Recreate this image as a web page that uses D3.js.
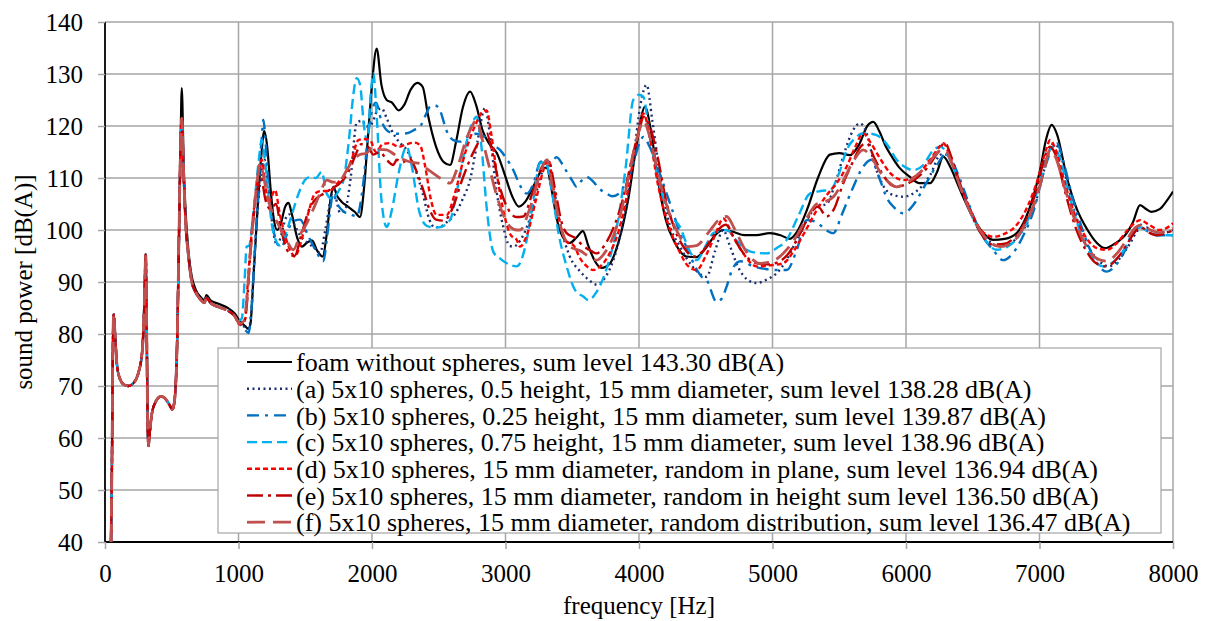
<!DOCTYPE html>
<html>
<head>
<meta charset="utf-8">
<script src="https://cdn.jsdelivr.net/npm/d3@7"></script>
<style>
  body { margin: 0; background: #fff; }
  svg text { font-family: "Liberation Serif", "Times New Roman", serif; fill: #000; }
</style>
</head>
<body>
<div id="chart"></div>
<script>
// Low frequency part, practically identical for all variants [Hz, dB(A)]
const lowBand = [[45,40],[52,55],[58,75],[65,83.8],[75,80],[90,74],[110,71.5],[140,70.3],[175,70],[210,70.5],
  [250,72.5],[280,77],[295,86],[305,95.3],[312,82],[320,62],[326,58.5],[335,61],[350,64.5],[380,67],[420,68],
  [450,67.6],[480,66.5],[505,65.5],[520,67],[540,78],[555,100],[565,115]];

// decay after the 575 Hz peak for the variants with spheres
const decayBand = [[575,121.5],[590,110],[605,101],[625,95],[650,90],[680,88],[720,86.5],[745,86],[760,87],
  [790,86],[850,85.2],[920,84.5],[970,83.5]];

const foamHigh = [[575,127.3],[590,112],[605,103],[625,96],[650,91],[680,88.5],[720,87],[745,86.5],[760,87.5],
  [790,86.5],[850,85.8],[920,85],[970,84],[1010,82.5],[1050,81.5],[1075,81],[1090,82],[1110,90],[1140,103],
  [1170,114],[1193,119],[1215,116],[1240,108],[1265,102],[1290,100],[1320,101.5],[1350,104.5],[1375,105.2],
  [1400,103],[1440,98.5],[1475,96.8],[1510,97.5],[1550,98],[1590,96],[1630,94.9],[1660,99],[1690,106],
  [1710,108.3],[1740,106.5],[1770,105.5],[1820,104.5],[1870,103.5],[1910,102.5],[1940,108],[1970,118],
  [2000,128],[2035,134.9],[2070,128],[2110,125],[2150,124.5],[2200,123],[2240,124],[2290,127],[2340,128.3],
  [2380,127.5],[2420,122],[2480,116],[2540,113],[2585,112.5],[2630,117],[2680,123.5],[2735,126.6],[2780,124],
  [2830,119],[2880,116.5],[2935,114.8],[2990,111],[3050,106.5],[3100,104.5],[3150,105.5],[3220,109],
  [3280,111.8],[3310,112],[3340,108.5],[3390,101.5],[3440,98.2],[3480,97.5],[3530,98.5],[3580,99.8],
  [3620,97],[3670,94],[3720,92.7],[3780,93.5],[3850,98],[3920,106],[3980,116],[4045,123.7],[4090,119],
  [4140,110],[4200,102],[4270,97.5],[4357,94.9],[4430,94.8],[4500,96.5],[4570,99],[4631,100],[4700,99.7],
  [4790,99],[4880,99],[4980,99.4],[5060,99],[5131,98.3],[5180,99.5],[5260,104],[5340,110],[5430,114.5],
  [5500,114.8],[5581,114.4],[5650,116.5],[5710,120],[5755,120.8],[5800,119],[5850,116],[5880,114.7],
  [5950,112],[6030,110.2],[6100,109],[6180,109],[6230,111],[6280,114.1],[6330,112.2],[6400,108],
  [6480,103.5],[6560,100],[6652,98.1],[6740,98.3],[6829,99.4],[6900,102.5],[6960,107],[7004,111.5],
  [7050,117.5],[7091,120.2],[7130,118.5],[7204,110.2],[7280,104],[7360,100],[7430,97.5],[7491,96.5],
  [7560,97.3],[7653,99.4],[7700,101.5],[7753,104.8],[7800,104],[7840,103.5],[7900,104],[7950,105.5],[8000,107.4]];

const aHigh = [[1010,82],[1050,81.3],[1075,81],[1095,84],[1120,95],[1150,106],[1175,112],[1195,113.5],
  [1215,110],[1240,104],[1265,99],[1290,97],[1320,99],[1350,102],[1380,103],[1420,101],[1460,99],[1520,97.5],
  [1570,96.5],[1610,95.6],[1650,100],[1690,106],[1710,108.3],[1740,105],[1760,103.3],[1800,104],[1840,110],
  [1885,120.6],[1925,121],[1960,119.9],[2000,120.5],[2040,123],[2072,123.4],[2110,121.5],[2147,119.2],
  [2200,117],[2260,115.4],[2320,112],[2380,107],[2430,102],[2470,100.5],[2509,100.6],[2560,101.5],
  [2620,103],[2680,106],[2734,109.6],[2790,117],[2846,123.4],[2880,119],[2930,108],[2980,101],[3030,97],
  [3059,96.8],[3110,98],[3180,102],[3250,109],[3308,113],[3360,108],[3420,100],[3480,95],[3560,92],
  [3620,90.5],[3683,89.5],[3750,91],[3830,96],[3900,104],[3960,114],[4010,124],[4057,127.9],[4100,121],
  [4160,110],[4230,101],[4307,96.8],[4400,93],[4506,91],[4570,96],[4631,100],[4680,97],[4740,93],
  [4810,90.5],[4881,89.8],[4960,90.5],[5031,91.7],[5100,94],[5180,98],[5260,102],[5330,104.5],[5406,105],
  [5470,109],[5540,115],[5600,119],[5655,120.5],[5700,119],[5760,113],[5820,109],[5880,107],[5980,106.4],
  [6080,107.5],[6180,110.5],[6260,114.5],[6310,114.5],[6370,111],[6450,106],[6530,101],[6600,98.5],
  [6680,97],[6750,97],[6830,98.5],[6920,102],[6990,107],[7050,113],[7100,116.5],[7140,116],[7200,110],
  [7270,103],[7350,97.5],[7430,94.5],[7520,93],[7600,94.5],[7680,97.5],[7740,100],[7800,100.5],
  [7870,99.5],[7940,99.5],[8000,100]];

const bHigh = [[1010,82],[1050,80.8],[1075,80.2],[1095,84],[1120,95],[1150,108],[1175,118],[1186,121.2],
  [1200,118],[1220,110],[1245,103],[1270,99],[1300,97],[1323,96.8],[1360,99],[1400,101.5],[1461,102],
  [1520,99],[1580,96],[1635,94],[1665,99],[1690,104.5],[1708,107],[1740,105],[1790,103.5],[1840,103],
  [1885,102.6],[1930,108],[1970,118],[2000,123],[2030,124.5],[2070,121],[2120,119],[2180,118.5],
  [2260,118.6],[2320,119.3],[2360,119.9],[2400,122],[2434,123.7],[2470,124],[2509,123],[2560,119],
  [2609,117.3],[2660,117],[2720,118],[2780,118.5],[2840,118],[2900,116.5],[2959,115.4],[3000,114],
  [3059,111.5],[3110,108.5],[3160,107],[3210,109],[3258,113],[3300,113.5],[3340,113],[3383,114],
  [3440,112],[3500,109.5],[3533,108.3],[3570,109.5],[3608,110.2],[3650,109.5],[3700,108],[3758,107],
  [3800,106.5],[3850,107],[3908,109.6],[3960,113],[4000,116.5],[4033,117.9],[4080,116],[4140,112],
  [4207,107],[4260,103],[4307,99.4],[4360,96.5],[4420,93],[4470,91],[4506,90.4],[4581,86.2],[4620,86.8],
  [4656,89.1],[4700,92.5],[4760,94],[4856,93],[4950,92.5],[5020,92.3],[5106,92.3],[5180,96],[5256,101.9],
  [5330,101.5],[5400,100],[5456,99.4],[5520,103],[5600,108],[5680,112.2],[5740,113.5],[5800,110],
  [5860,106],[5905,104.5],[5980,103.2],[6060,105],[6140,108.5],[6220,112],[6305,114.7],[6360,112.5],
  [6430,108],[6500,103],[6580,98.5],[6652,96.2],[6727,94.2],[6800,95.5],[6880,99],[6960,104],[7030,111],
  [7090,115.5],[7129,116.7],[7180,113],[7250,106],[7330,99.5],[7410,94.5],[7503,92],[7580,93.5],
  [7650,96.5],[7710,99.5],[7760,101],[7820,99.5],[7880,99],[7940,99],[8000,99]];

const cHigh = [[1000,82.5],[1025,83],[1045,90],[1061,96.8],[1080,97],[1110,103],[1150,113],[1174,117.3],
  [1195,114],[1220,108],[1250,101],[1280,98],[1310,97],[1350,99],[1400,103],[1450,107],[1498,109.6],
  [1536,110.2],[1580,110],[1623,111.2],[1661,107],[1700,106],[1748,107.4],[1790,110],[1830,118],[1860,126],
  [1885,129.2],[1910,128],[1940,120],[1965,117],[1990,126],[2010,130.1],[2035,122],[2070,106],[2110,100.6],
  [2150,104],[2200,111],[2260,116],[2300,112],[2350,104],[2400,101],[2434,100.6],[2500,100.5],[2584,101.9],
  [2640,108],[2700,116],[2750,120.5],[2784,121.8],[2820,116],[2860,104],[2909,95.8],[2960,94.5],
  [3009,93.6],[3084,93],[3150,97],[3210,106],[3258,112.8],[3300,113],[3350,107],[3400,99],[3458,93],
  [3520,88.5],[3583,87.2],[3620,86.5],[3680,88],[3750,92],[3830,100],[3900,112],[3957,125],[4000,126],
  [4033,125.6],[4080,118],[4150,109],[4230,103],[4307,100.6],[4370,96.5],[4432,94.2],[4500,97],
  [4556,99.4],[4656,100],[4730,98],[4806,96.2],[4880,95.6],[4956,95.5],[5030,96.5],[5106,98.1],
  [5190,102.5],[5281,107],[5360,107.5],[5431,107.7],[5500,111],[5556,115.4],[5620,117.7],[5680,118.6],
  [5740,118.5],[5805,117.9],[5870,116],[5930,113.5],[6000,112],[6055,111.5],[6130,112.5],[6205,115.4],
  [6260,116],[6320,114],[6400,109],[6480,103.5],[6570,99],[6677,96.2],[6760,96.8],[6850,99],[6930,103],
  [7000,109],[7060,114.5],[7103,116],[7150,114],[7220,107],[7300,100],[7390,95],[7475,93],[7560,94],
  [7640,96.5],[7700,99.5],[7760,100.5],[7820,99.5],[7900,99],[7960,99],[8000,99]];

const dHigh = [[1010,81.8],[1035,82.2],[1049,82.7],[1070,90],[1100,100],[1140,109],[1174,113.5],[1200,109],
  [1223,105.1],[1250,106.5],[1273,107.7],[1310,103],[1360,98],[1400,95.5],[1423,94.9],[1460,97],[1520,103],
  [1573,107],[1620,107.5],[1680,107.5],[1740,109],[1790,110.5],[1847,113.5],[1898,117.3],[1940,117.5],
  [1985,117.3],[2030,115],[2080,116.5],[2135,116.7],[2200,116],[2260,116.5],[2320,116.8],[2360,116.3],
  [2400,112],[2440,106],[2484,102.9],[2559,102.9],[2620,107],[2700,115],[2780,120.5],[2830,122.8],
  [2859,123],[2890,119],[2940,110],[2990,103],[3040,99],[3084,98.1],[3109,96.8],[3160,99],[3230,106],
  [3290,112],[3321,113.5],[3360,108],[3420,100],[3470,97.5],[3508,97.1],[3560,94.5],[3610,93],[3658,92.3],
  [3710,93],[3780,95.5],[3850,100],[3920,108],[3980,117],[4033,122.4],[4080,118],[4140,109],[4220,101],
  [4300,96],[4370,93],[4432,92.3],[4500,95],[4570,99],[4631,102.2],[4700,99],[4781,95.5],[4881,93],
  [4980,93.2],[5081,93.6],[5160,96],[5250,100],[5331,103.8],[5400,106.5],[5480,109],[5556,112.2],
  [5620,116],[5680,118.6],[5730,117],[5800,114],[5880,111],[5980,109.6],[6080,110.5],[6180,113.5],
  [6250,116],[6280,116.7],[6330,114],[6400,109],[6480,104],[6560,100],[6652,98.7],[6740,99.3],[6830,101],
  [6910,104.5],[6990,110],[7050,115.5],[7079,117.3],[7120,115.5],[7190,109],[7270,102.5],[7350,98.5],
  [7430,96.5],[7503,96.2],[7580,97.5],[7660,100],[7720,101.5],[7753,101.9],[7820,101],[7900,100],
  [7960,100.5],[8000,101.3]];

const eHigh = [[1010,82],[1040,82.3],[1060,85],[1090,96],[1130,106],[1170,110],[1200,106],[1240,104],
  [1280,105],[1320,100],[1380,95.5],[1420,95],[1470,99],[1530,104],[1580,106],[1640,107],[1700,108],
  [1760,109],[1820,111],[1870,114],[1920,116.5],[1970,116],[2010,114.5],[2060,115],[2110,113.5],
  [2160,112.5],[2185,113.5],[2230,113],[2280,113.8],[2330,111.5],[2380,108],[2430,104],[2480,102],
  [2540,101.8],[2600,104],[2680,110],[2760,115],[2830,118],[2859,118.6],[2900,115],[2960,108],[3020,104],
  [3080,102.5],[3133,102.6],[3200,107],[3270,112],[3321,113.5],[3370,108],[3420,101.5],[3458,99.4],
  [3520,98.5],[3580,97],[3640,96],[3683,95.5],[3740,97],[3810,100.5],[3880,106],[3950,114],[4010,120],
  [4033,121.8],[4080,120],[4140,114],[4200,106],[4270,100],[4340,96.5],[4407,94.9],[4480,96],[4560,99],
  [4650,101],[4720,98],[4800,95],[4881,93.6],[4960,93.4],[5040,93.8],[5120,95.5],[5200,99],[5280,103],
  [5340,104.5],[5406,102.6],[5460,104],[5530,109],[5600,113],[5660,116],[5705,116.7],[5760,114],
  [5830,110.5],[5900,108.5],[5930,108.3],[6000,108.8],[6080,110],[6160,112],[6240,115],[6290,116.8],
  [6340,114],[6410,108.5],[6490,103],[6570,99],[6650,97.2],[6730,97.3],[6810,98.5],[6900,102],[6980,108],
  [7040,114],[7079,116],[7120,114.5],[7190,107.5],[7270,100.5],[7350,96],[7430,93.5],[7503,93],
  [7580,94.5],[7650,97],[7710,99.5],[7760,100.5],[7820,99.5],[7880,99],[7940,99.3],[8000,100]];

const fHigh = [[1010,82],[1040,82.5],[1060,86],[1090,96],[1130,107],[1161,112.8],[1190,110],[1220,106],
  [1260,103],[1300,101],[1360,98],[1411,96.2],[1460,99],[1511,101.3],[1560,104],[1610,107],[1661,109.6],
  [1710,109.2],[1760,109.4],[1810,111.5],[1860,113.5],[1910,114.5],[1960,114.8],[2010,116],[2060,115.5],
  [2110,115.4],[2170,114.5],[2240,113.5],[2300,113],[2360,112.8],[2410,111.8],[2459,110.9],[2520,109.8],
  [2584,109],[2640,112],[2700,117],[2750,120],[2784,121.2],[2820,118],[2870,113],[2930,107],[2990,102.5],
  [3040,100.5],[3084,100],[3109,100],[3180,104],[3250,110],[3308,113.5],[3360,107],[3420,100],[3483,96.8],
  [3560,96],[3620,95],[3683,94.2],[3740,95.5],[3810,99],[3880,105],[3950,114],[4000,119],[4033,121],
  [4080,118],[4150,110],[4230,103],[4300,99],[4357,96.8],[4430,97],[4520,99.5],[4600,102],[4656,102.6],
  [4720,100],[4800,96],[4906,93.6],[5000,94],[5080,95.5],[5160,98],[5250,102],[5331,105],[5400,105.5],
  [5460,106.5],[5530,109.5],[5600,113],[5680,115.4],[5740,114],[5810,111],[5880,109],[5930,108.3],
  [6000,109],[6080,110.5],[6160,112.5],[6240,115],[6290,115.5],[6340,113],[6410,108],[6490,103],
  [6580,99],[6705,96.8],[6790,97.5],[6880,100.5],[6960,105],[7030,111],[7079,115.4],[7120,114],
  [7190,108],[7270,101.5],[7350,97],[7430,94.5],[7503,94],[7580,95.5],[7650,98],[7720,100.5],
  [7770,101],[7830,100],[7900,99.5],[7960,99.8],[8000,100.3]];

const seriesNames = [
  "foam without spheres, sum level 143.30 dB(A)",
  "(a) 5x10 spheres, 0.5 height, 15 mm diameter, sum level 138.28 dB(A)",
  "(b) 5x10 spheres, 0.25 height, 15 mm diameter, sum level 139.87 dB(A)",
  "(c) 5x10 spheres, 0.75 height, 15 mm diameter, sum level 138.96 dB(A)",
  "(d) 5x10 spheres, 15 mm diameter, random in plane, sum level 136.94 dB(A)",
  "(e) 5x10 spheres, 15 mm diameter, random in height sum level 136.50 dB(A)",
  "(f) 5x10 spheres, 15 mm diameter, random distribution, sum level 136.47 dB(A)"
];
const seriesColors = ["#000000", "#1c2f6e", "#0070c0", "#00b0f0", "#ff0000", "#c00000", "#c0504d"];
const seriesDash = ["", "2,3.5", "12,6,3,6", "10,5", "5,3", "16,5,3,5", "18,8"];
const seriesWidth = [2.2, 2.4, 2.4, 2.4, 2.4, 2.4, 2.8];

const xTicks = [0, 1000, 2000, 3000, 4000, 5000, 6000, 7000, 8000];
const yTicks = [40, 50, 60, 70, 80, 90, 100, 110, 120, 130, 140];

const seriesData = [
  lowBand.concat(foamHigh),
  lowBand.concat(decayBand, aHigh),
  lowBand.concat(decayBand, bHigh),
  lowBand.concat(decayBand, cHigh),
  lowBand.concat(decayBand, dHigh),
  lowBand.concat(decayBand, eHigh),
  lowBand.concat(decayBand, fHigh)
];

const W = 1209, H = 621;
const margin = {top: 22, right: 36, bottom: 79, left: 105};
const width = W - margin.left - margin.right,
      height = H - margin.top - margin.bottom;
const serif = '"Liberation Serif", "Times New Roman", serif';

const svg = d3.select("#chart").append("svg")
    .attr("width", W)
    .attr("height", H)
    .attr("font-family", serif)
    .style("background", "#fff");

const g = svg.append("g")
    .attr("transform", `translate(${margin.left},${margin.top})`);

const x = d3.scaleLinear().domain([0, 8000]).range([0, width]);
const y = d3.scaleLinear().domain([40, 140]).range([height, 0]);

// grid
g.append("g").selectAll("line").data(yTicks.slice(1)).enter().append("line")
    .attr("x1", 0).attr("x2", width)
    .attr("y1", d => y(d)).attr("y2", d => y(d))
    .attr("stroke", "#a6a6a6").attr("stroke-width", 1.5);
g.append("g").selectAll("line").data(xTicks.slice(1)).enter().append("line")
    .attr("x1", d => x(d)).attr("x2", d => x(d))
    .attr("y1", 0).attr("y2", height)
    .attr("stroke", "#a6a6a6").attr("stroke-width", 1.5);

// axes
const yAxis = g.append("g")
    .call(d3.axisLeft(y).tickValues(yTicks).tickSize(7).tickPadding(15));
const xAxis = g.append("g")
    .attr("transform", `translate(0,${height})`)
    .call(d3.axisBottom(x).tickValues(xTicks).tickSize(7).tickPadding(15).tickFormat(d3.format("d")));
[xAxis, yAxis].forEach(ax => {
    ax.attr("font-family", serif).attr("font-size", 25);
    ax.select(".domain").attr("stroke", "#000").attr("stroke-width", 1.8);
    ax.selectAll(".tick line").attr("stroke", "#a6a6a6").attr("stroke-width", 1.5);
    ax.selectAll(".tick text").attr("fill", "#000");
});
xAxis.select(".domain").attr("d", `M0,0H${width}`);
yAxis.select(".domain").attr("d", `M0,${height}V0`);

// curves
const line = d3.line()
    .curve(d3.curveMonotoneX)
    .x(d => x(d[0]))
    .y(d => y(d[1]));

svg.append("clipPath").attr("id", "plotclip")
    .append("rect").attr("x", 0).attr("y", 0).attr("width", width).attr("height", height);

g.append("g").attr("clip-path", "url(#plotclip)")
  .selectAll(".series")
    .data(seriesData)
    .enter().append("path")
    .attr("class", "series")
    .attr("d", line)
    .attr("fill", "none")
    .attr("stroke", (d, i) => seriesColors[i])
    .attr("stroke-width", (d, i) => seriesWidth[i])
    .attr("stroke-dasharray", (d, i) => seriesDash[i] || null)
    .attr("stroke-linejoin", "round");

// legend
const legend = svg.append("g").attr("transform", "translate(218,348)");
legend.append("rect")
    .attr("width", 943).attr("height", 185)
    .attr("fill", "#fff").attr("stroke", "#a6a6a6").attr("stroke-width", 1.2);
const items = legend.selectAll(".legend-item")
    .data(seriesNames)
    .enter().append("g")
    .attr("class", "legend-item")
    .attr("transform", (d, i) => `translate(0,${14 + i * 26.7})`);
items.append("line")
    .attr("x1", 29).attr("x2", 74)
    .attr("stroke", (d, i) => seriesColors[i])
    .attr("stroke-width", (d, i) => seriesWidth[i])
    .attr("stroke-dasharray", (d, i) => seriesDash[i] || null);
items.append("text")
    .attr("x", 78)
    .attr("dy", "0.35em")
    .style("font-size", "26px")
    .text(d => d);

// axis titles
svg.append("text")
    .attr("x", margin.left + width / 2)
    .attr("y", 614)
    .attr("text-anchor", "middle")
    .style("font-size", "25px")
    .text("frequency [Hz]");
svg.append("text")
    .attr("transform", `translate(32,${margin.top + height / 2}) rotate(-90)`)
    .attr("text-anchor", "middle")
    .style("font-size", "25px")
    .text("sound power [dB(A)]");
</script>
</body>
</html>
